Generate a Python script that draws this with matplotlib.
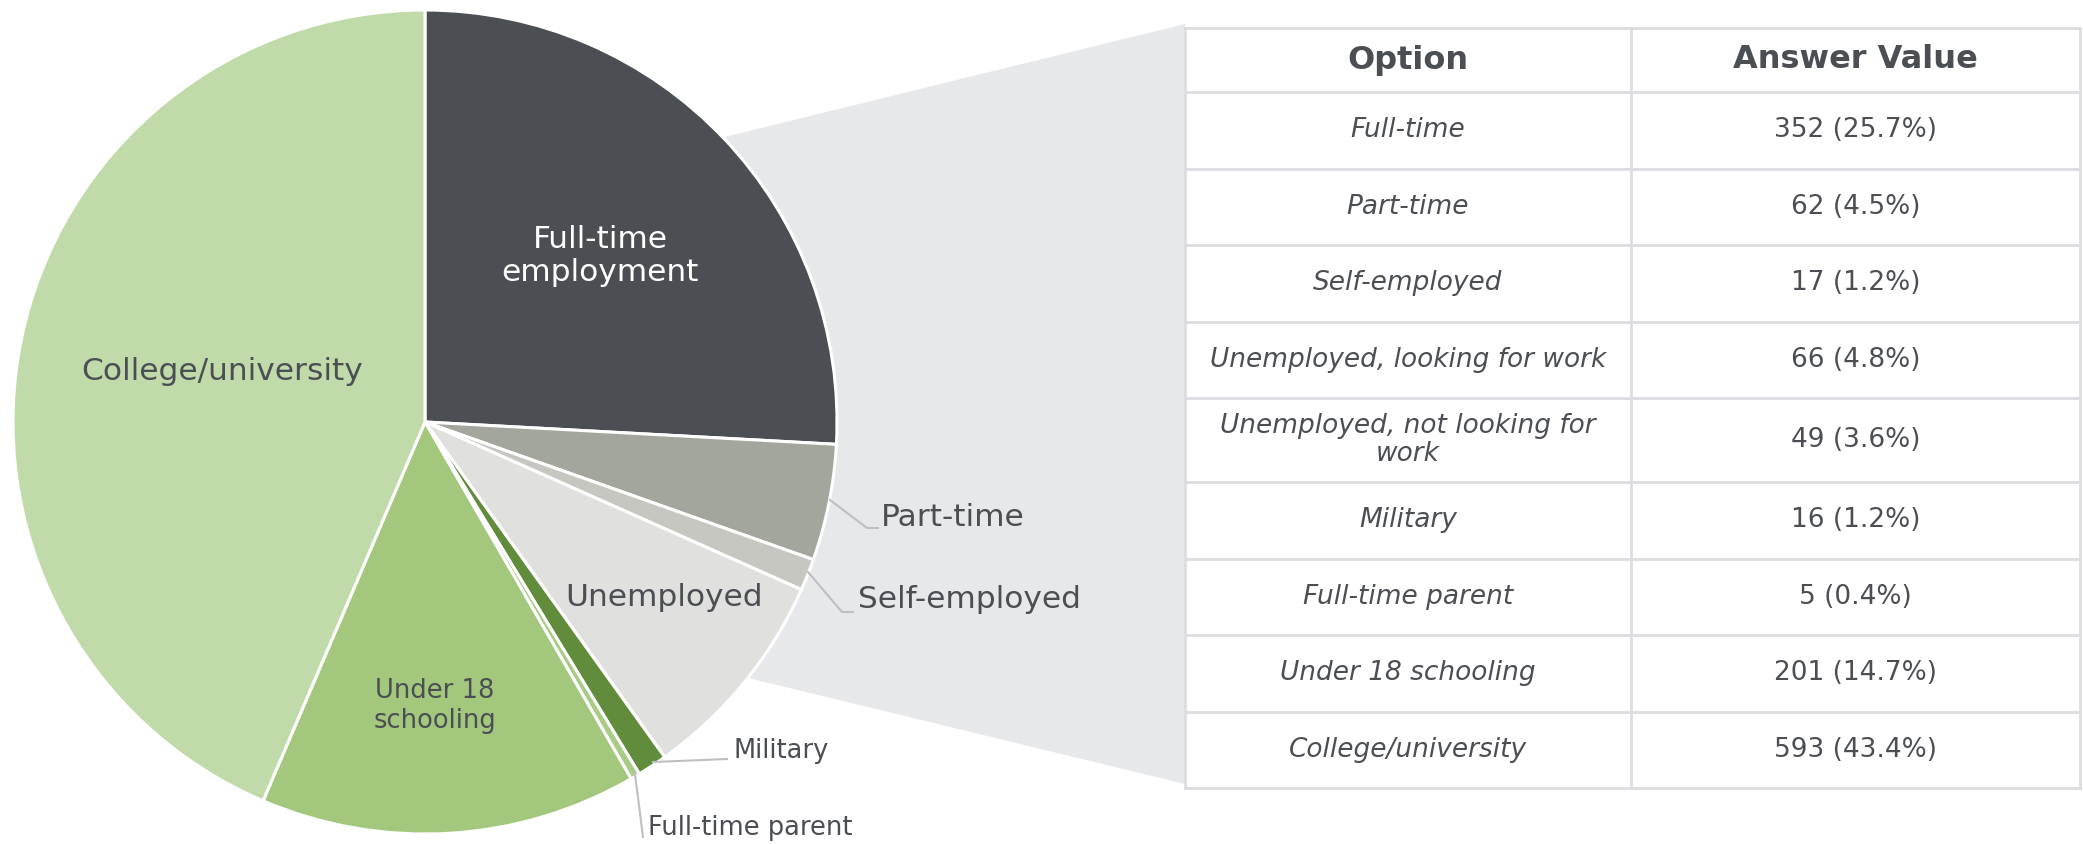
import numpy as np
import matplotlib
matplotlib.use("Agg")
import matplotlib.pyplot as plt
from matplotlib.patches import Polygon

# pie data (clockwise from 12 o'clock)
pie_labels = ["Full-time\nemployment", "Part-time", "Self-employed", "Unemployed",
              "Military", "Full-time parent", "Under 18\nschooling", "College/university"]
pie_values = [352, 62, 17, 66 + 49, 16, 5, 201, 593]
pie_colors = ["#4B4F54", "#A3A69C", "#C6C7C0", "#E0E0DF",
              "#618C3B", "#A9CB85", "#A2C77D", "#C0DAAA"]

# table data
options = ["Full-time", "Part-time", "Self-employed", "Unemployed, looking for work",
           "Unemployed, not looking for\nwork", "Military", "Full-time parent",
           "Under 18 schooling", "College/university"]
counts = [352, 62, 17, 66, 49, 16, 5, 201, 593]
percents = [25.7, 4.5, 1.2, 4.8, 3.6, 1.2, 0.4, 14.7, 43.4]

W, H = 2083, 844
TXT = "#4B4F54"
GRID = "#DCDDE0"

def Y(y):  # pixel row (top-down) -> axes y
    return H - y

fig = plt.figure(figsize=(W / 100, H / 100), dpi=100)
ax = fig.add_axes([0, 0, 1, 1])

cx, cy, r = 425, Y(422), 412
wedges, _ = ax.pie(pie_values, colors=pie_colors, startangle=90, counterclock=False,
                   center=(cx, cy), radius=r,
                   wedgeprops=dict(edgecolor="white", linewidth=2.2))
for w in wedges:
    w.set_zorder(3)

# grey callout wedge linking pie to table
tl, tr = 1185, 2080
a1, a2 = np.radians(43.7), np.radians(-38.4)
poly = Polygon([(cx, cy), (cx + r * np.cos(a1), cy + r * np.sin(a1)), (tl, Y(24)),
                (tl, Y(784)), (cx + r * np.cos(a2), cy + r * np.sin(a2))],
               closed=True, facecolor="#E7E8EA", edgecolor="none", zorder=1)
ax.add_patch(poly)

# labels inside / outside the pie
ax.text(600, Y(256), pie_labels[0], color="white", fontsize=22.5, ha="center", va="center",
        linespacing=1.15, zorder=5)
ax.text(222, Y(371), pie_labels[7], color=TXT, fontsize=22.5, ha="center", va="center", zorder=5)
ax.text(664, Y(598), pie_labels[3], color=TXT, fontsize=22.5, ha="center", va="center", zorder=5)
ax.text(435, Y(706), pie_labels[6], color=TXT, fontsize=18.5, ha="center", va="center",
        linespacing=1.15, zorder=5)

lead = "#BDBFC2"
ax.plot([830, 867, 878], [Y(500), Y(528), Y(528)], color=lead, lw=1.5, zorder=4)
ax.text(881, Y(517), pie_labels[1], color=TXT, fontsize=22.5, ha="left", va="center", zorder=5)
ax.plot([808, 842, 853], [Y(572), Y(612), Y(612)], color=lead, lw=1.5, zorder=4)
ax.text(858, Y(600), pie_labels[2], color=TXT, fontsize=22.5, ha="left", va="center", zorder=5)
ax.plot([653, 727], [Y(762), Y(759)], color=lead, lw=1.5, zorder=4)
ax.text(733, Y(751), pie_labels[4], color=TXT, fontsize=18.5, ha="left", va="center", zorder=5)
ax.plot([635, 643], [Y(774), Y(837)], color=lead, lw=1.5, zorder=4)
ax.text(648, Y(828), pie_labels[5], color=TXT, fontsize=18.5, ha="left", va="center", zorder=5)

# table
col_div = 1631
top, head_h = 28, 64
ax.add_patch(plt.Rectangle((tl, Y(790)), tr - tl, 790 - top, facecolor="white",
                           edgecolor="none", zorder=2))
ax.text((tl + col_div) / 2, Y(top + head_h / 2), "Option", color=TXT, fontsize=23,
        fontweight="bold", ha="center", va="center", zorder=5)
ax.text((col_div + tr) / 2, Y(top + head_h / 2), "Answer Value", color=TXT, fontsize=23,
        fontweight="bold", ha="center", va="center", zorder=5)

ys = [top, top + head_h]
y = top + head_h
for opt, n, p in zip(options, counts, percents):
    h = 76.5 + 7.5 * opt.count("\n")
    mid = y + h / 2
    ax.text((tl + col_div) / 2, Y(mid), opt, color=TXT, fontsize=19, style="italic",
            ha="center", va="center", linespacing=1.1, zorder=5)
    ax.text((col_div + tr) / 2, Y(mid), f"{n} ({p}%)", color=TXT, fontsize=19,
            ha="center", va="center", zorder=5)
    y += h
    ys.append(y)

for yy in ys:
    ax.plot([tl, tr], [Y(yy), Y(yy)], color=GRID, lw=2, zorder=4, solid_capstyle="projecting")
for xx in [tl, col_div, tr]:
    ax.plot([xx, xx], [Y(ys[0]), Y(ys[-1])], color=GRID, lw=2, zorder=4)

ax.set_xlim(0, W)
ax.set_ylim(0, H)
ax.set_aspect("equal")
ax.axis("off")

fig.savefig("out.png", dpi=100, facecolor="white")
